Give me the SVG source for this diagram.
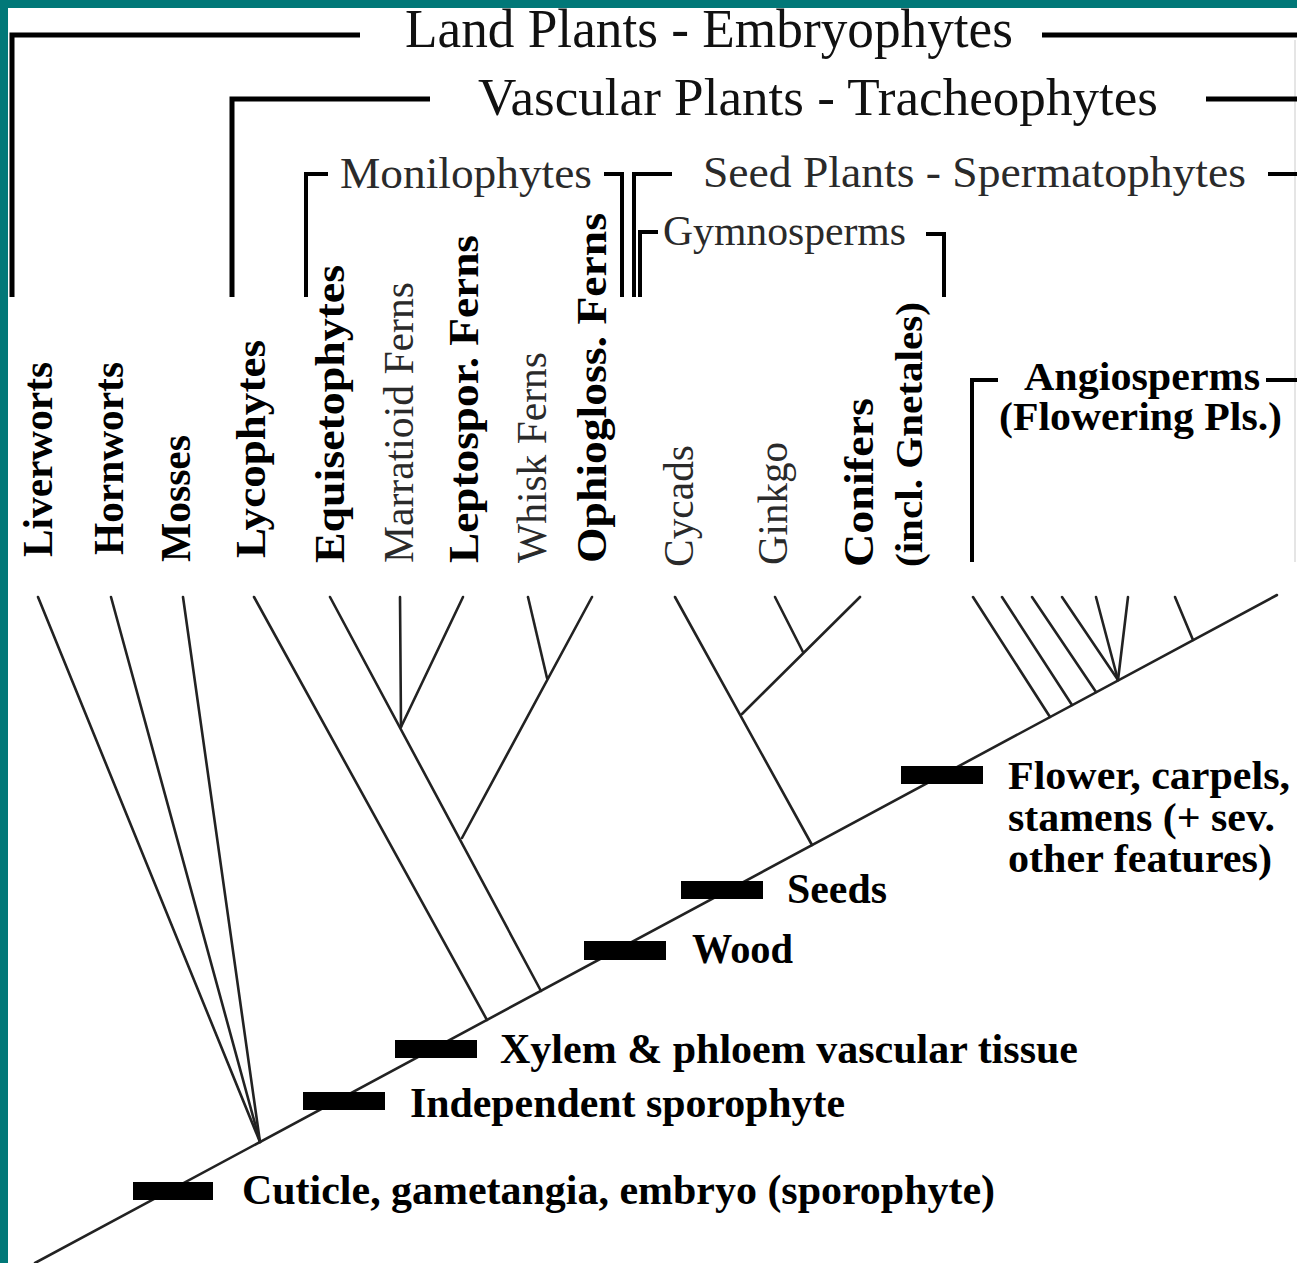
<svg xmlns="http://www.w3.org/2000/svg" width="1297" height="1263" viewBox="0 0 1297 1263">
<style>
.t{font-family:"Liberation Serif","Times New Roman",serif;}
.b{font-weight:bold;fill:#000;}
.r{fill:#2a2a2a;}
.h{fill:#111;}
.br{fill:none;stroke:#000;stroke-width:5;stroke-linecap:butt;stroke-linejoin:miter;}
.br4{fill:none;stroke:#000;stroke-width:4;stroke-linejoin:miter;}
.ln{fill:none;stroke:#222;stroke-width:2.6;stroke-linecap:round;}
.bar{fill:#000;}
</style>
<rect x="0" y="0" width="1297" height="1263" fill="#ffffff"/>
<rect x="0" y="0" width="1297" height="8" fill="#017878"/>
<rect x="0" y="0" width="8" height="1263" fill="#017878"/>
<line x1="1295" y1="40" x2="1295" y2="562" stroke="#dddddd" stroke-width="1.5"/>

<g id="land-plants">
<path class="br" d="M12,297 V35 H360"/>
<path class="br" d="M1042,35 H1297"/>
<text class="t h" x="405" y="47" font-size="54" textLength="608" lengthAdjust="spacingAndGlyphs">Land Plants - Embryophytes</text>
</g>
<g id="vascular-plants">
<path class="br" d="M232,297 V99 H430"/>
<path class="br" d="M1206,99 H1297"/>
<text class="t h" x="478" y="115" font-size="53" textLength="680" lengthAdjust="spacingAndGlyphs">Vascular Plants - Tracheophytes</text>
</g>
<g id="monilophytes">
<path class="br4" d="M306,297 V174 H328"/>
<path class="br4" d="M604,174 H622 V297"/>
<text class="t r" x="340" y="188" font-size="45" textLength="252" lengthAdjust="spacingAndGlyphs">Monilophytes</text>
</g>
<g id="seed-plants">
<path class="br4" d="M634,297 V174 H672"/>
<path class="br4" d="M1268,174 H1297"/>
<text class="t r" x="703" y="187" font-size="45" textLength="543" lengthAdjust="spacingAndGlyphs">Seed Plants - Spermatophytes</text>
</g>
<g id="gymnosperms">
<path class="br4" d="M640,297 V232 H658"/>
<path class="br4" d="M926,234 H944 V297"/>
<text class="t r" x="663" y="245" font-size="42" textLength="243" lengthAdjust="spacingAndGlyphs">Gymnosperms</text>
</g>
<g id="angiosperms">
<path class="br4" d="M972,562 V380 H998"/>
<path class="br4" d="M1266,380 H1297"/>
<text class="t b" x="1024" y="390" font-size="39" textLength="236" lengthAdjust="spacingAndGlyphs">Angiosperms</text>
<text class="t b" x="999" y="430" font-size="39" textLength="283" lengthAdjust="spacingAndGlyphs">(Flowering Pls.)</text>
</g>

<g id="liverworts"><text class="t b" font-size="42" transform="translate(52,557) rotate(-90)" textLength="195" lengthAdjust="spacingAndGlyphs">Liverworts</text></g>
<g id="hornworts"><text class="t b" font-size="42" transform="translate(123,555) rotate(-90)" textLength="193" lengthAdjust="spacingAndGlyphs">Hornworts</text></g>
<g id="mosses"><text class="t b" font-size="42" transform="translate(190,562) rotate(-90)" textLength="127" lengthAdjust="spacingAndGlyphs">Mosses</text></g>
<g id="lycophytes"><text class="t b" font-size="42" transform="translate(265,558) rotate(-90)" textLength="218" lengthAdjust="spacingAndGlyphs">Lycophytes</text></g>
<g id="equisetophytes"><text class="t b" font-size="42" transform="translate(344,563) rotate(-90)" textLength="298" lengthAdjust="spacingAndGlyphs">Equisetophytes</text></g>
<g id="marratioid"><text class="t r" font-size="42" transform="translate(413,563) rotate(-90)" textLength="281" lengthAdjust="spacingAndGlyphs">Marratioid Ferns</text></g>
<g id="leptospor"><text class="t b" font-size="42" transform="translate(478,563) rotate(-90)" textLength="328" lengthAdjust="spacingAndGlyphs">Leptospor. Ferns</text></g>
<g id="whisk"><text class="t r" font-size="42" transform="translate(546,563) rotate(-90)" textLength="211" lengthAdjust="spacingAndGlyphs">Whisk Ferns</text></g>
<g id="ophiogloss"><text class="t b" font-size="42" transform="translate(606,563) rotate(-90)" textLength="350" lengthAdjust="spacingAndGlyphs">Ophiogloss. Ferns</text></g>
<g id="cycads"><text class="t r" font-size="42" transform="translate(693,567) rotate(-90)" textLength="122" lengthAdjust="spacingAndGlyphs">Cycads</text></g>
<g id="ginkgo"><text class="t r" font-size="42" transform="translate(787,565) rotate(-90)" textLength="123" lengthAdjust="spacingAndGlyphs">Ginkgo</text></g>
<g id="conifers"><text class="t b" font-size="42" transform="translate(873,567) rotate(-90)" textLength="169" lengthAdjust="spacingAndGlyphs">Conifers</text>
<text class="t b" font-size="38" transform="translate(922,567) rotate(-90)" textLength="265" lengthAdjust="spacingAndGlyphs">(incl. Gnetales)</text></g>

<g id="connectors">
<path class="ln" d="M35,1263 L1277,595"/>
<path class="ln" d="M38,597 L260,1142"/>
<path class="ln" d="M111,597 L260,1142"/>
<path class="ln" d="M183,597 L260,1142"/>
<path class="ln" d="M254,597 L487,1020"/>
<path class="ln" d="M330,597 L541,991"/>
<path class="ln" d="M400,597 L401,727"/>
<path class="ln" d="M463,597 L401,727"/>
<path class="ln" d="M528,597 L547,678"/>
<path class="ln" d="M592,597 L462,838"/>
<path class="ln" d="M675,597 L812,845"/>
<path class="ln" d="M775,597 L803,652"/>
<path class="ln" d="M860,597 L742,714"/>
<path class="ln" d="M973,597 L1050,717"/>
<path class="ln" d="M1002,597 L1072,705"/>
<path class="ln" d="M1032,597 L1096,692"/>
<path class="ln" d="M1062,597 L1118,680"/>
<path class="ln" d="M1096,597 L1118,680"/>
<path class="ln" d="M1128,597 L1118,680"/>
<path class="ln" d="M1175,597 L1193,640"/>
</g>

<g id="cuticle">
<rect class="bar" x="133" y="1182" width="80" height="18"/>
<text class="t b" x="242" y="1204" font-size="42" textLength="753" lengthAdjust="spacingAndGlyphs">Cuticle, gametangia, embryo (sporophyte)</text>
</g>
<g id="independent-sporophyte">
<rect class="bar" x="303" y="1092" width="82" height="18"/>
<text class="t b" x="410" y="1117" font-size="42" textLength="435" lengthAdjust="spacingAndGlyphs">Independent sporophyte</text>
</g>
<g id="xylem">
<rect class="bar" x="395" y="1040" width="82" height="18"/>
<text class="t b" x="500" y="1063" font-size="42" textLength="578" lengthAdjust="spacingAndGlyphs">Xylem &amp; phloem vascular tissue</text>
</g>
<g id="wood">
<rect class="bar" x="584" y="941" width="82" height="19"/>
<text class="t b" x="692" y="963" font-size="42" textLength="101" lengthAdjust="spacingAndGlyphs">Wood</text>
</g>
<g id="seeds">
<rect class="bar" x="681" y="881" width="82" height="18"/>
<text class="t b" x="787" y="903" font-size="42" textLength="100" lengthAdjust="spacingAndGlyphs">Seeds</text>
</g>
<g id="flower">
<rect class="bar" x="901" y="766" width="82" height="18"/>
<text class="t b" x="1008" y="789" font-size="39" textLength="282" lengthAdjust="spacingAndGlyphs">Flower, carpels,</text>
<text class="t b" x="1008" y="831" font-size="39" textLength="267" lengthAdjust="spacingAndGlyphs">stamens (+ sev.</text>
<text class="t b" x="1008" y="872" font-size="39" textLength="264" lengthAdjust="spacingAndGlyphs">other features)</text>
</g>
</svg>
